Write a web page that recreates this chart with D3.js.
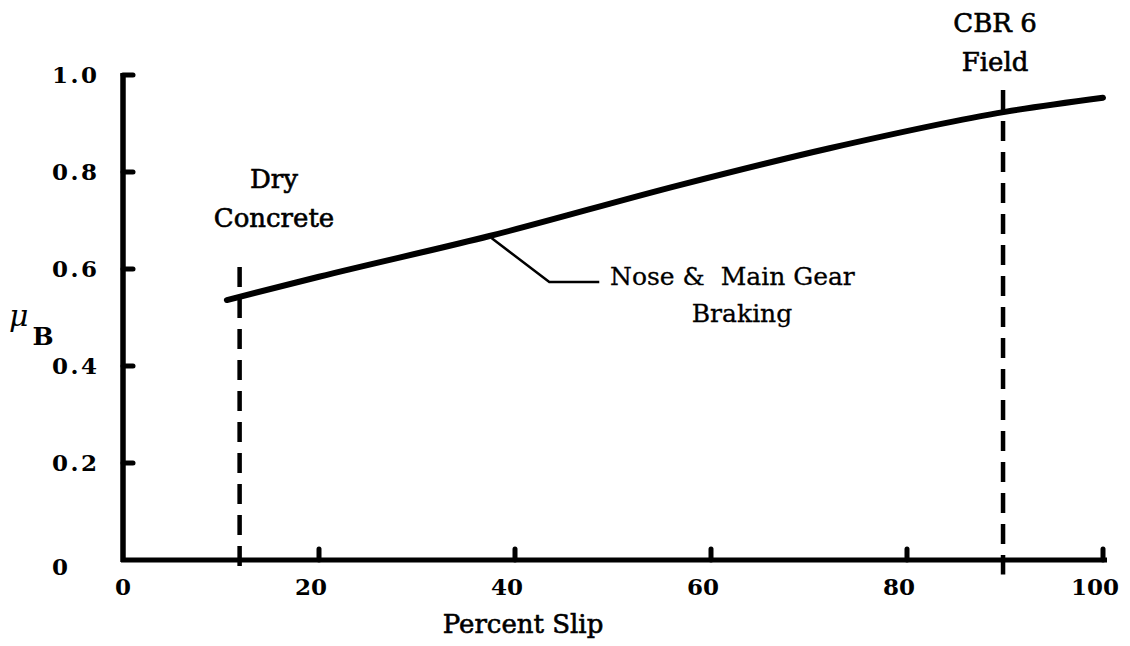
<!DOCTYPE html>
<html>
<head>
<meta charset="utf-8">
<script src="https://cdn.jsdelivr.net/npm/d3@7"></script>
<style>
  html, body { margin: 0; padding: 0; background: #fff; }
  svg { display: block; }
  text { font-family: "DejaVu Serif", serif; fill: #000; }
</style>
</head>
<body>
<svg id="chart" width="1130" height="646"></svg>
<script>
// ---- data ----
const slip = [10.6, 20, 37.4, 56.8, 72.1, 90, 100];
const muB  = [0.536, 0.584, 0.668, 0.773, 0.849, 0.924, 0.953];

const xTicks = [0, 20, 40, 60, 80, 100];
const yTicks = [0, 0.2, 0.4, 0.6, 0.8, 1.0];
const yTickLabels = ["0", "0.2", "0.4", "0.6", "0.8", "1.0"];

const surfaceSlip = [11.9, 89.8];
const surfaceTop  = [0.604, 0.969];
const surfaceBottom = [-0.016, -0.03];
const surfaceLabels = [["Dry", "Concrete"], ["CBR 6", "Field"]];

const leaderSlip = [37.6, 43.5, 48.6];
const leaderMu   = [0.664, 0.573, 0.573];
const curveLabel = ["Nose & \u00A0Main Gear", "Braking"];

const xTitle = "Percent Slip";

// ---- scales ----
const svg = d3.select("#chart");
const x = d3.scaleLinear().domain([0, 100]).range([123, 1103]);
const y = d3.scaleLinear().domain([0, 1]).range([560, 75]);

const semi = sel => sel.attr("stroke", "#000").attr("stroke-width", 0.6);

// ---- axes ----
svg.append("line")
  .attr("x1", x(0)).attr("x2", x(0))
  .attr("y1", y(1) - 2).attr("y2", y(0) + 2)
  .attr("stroke", "#000").attr("stroke-width", 5.5);
svg.append("line")
  .attr("x1", x(0) - 2).attr("x2", x(100) + 4)
  .attr("y1", y(0)).attr("y2", y(0))
  .attr("stroke", "#000").attr("stroke-width", 5);

// y ticks (pointing right)
svg.selectAll(".ytick").data(yTicks.filter(d => d > 0)).enter().append("line")
  .attr("x1", x(0)).attr("x2", x(0) + 10)
  .attr("y1", d => y(d)).attr("y2", d => y(d))
  .attr("stroke", "#000").attr("stroke-width", 5).attr("stroke-linecap", "round");

// x ticks (pointing up)
svg.selectAll(".xtick").data(xTicks.filter(d => d > 0)).enter().append("line")
  .attr("x1", d => x(d)).attr("x2", d => x(d))
  .attr("y1", y(0)).attr("y2", y(0) - 11)
  .attr("stroke", "#000").attr("stroke-width", 5).attr("stroke-linecap", "round");

// y tick labels
svg.selectAll(".ylab").data(yTicks).enter().append("text")
  .attr("x", 52)
  .attr("y", d => d === 0 ? y(d) + 7 : y(d))
  .attr("dy", "0.36em")
  .attr("font-size", 23).attr("font-weight", "bold")
  .attr("letter-spacing", 2.5)
  .text((d, i) => yTickLabels[i]);

// x tick labels
svg.selectAll(".xlab").data(xTicks).enter().append("text")
  .attr("x", d => d === 0 ? x(d) : x(d) - 8)
  .attr("y", y(0) + 27)
  .attr("dy", "0.36em")
  .attr("text-anchor", "middle")
  .attr("font-size", 23).attr("font-weight", "bold")
  .text(d => d);

// axis titles
svg.append("text")
  .attr("x", 523).attr("y", 633)
  .attr("text-anchor", "middle")
  .attr("font-size", 26)
  .call(semi)
  .text(xTitle);

const mu = svg.append("text").attr("x", 9).attr("y", 326).attr("font-size", 30).attr("font-style", "italic");
mu.append("tspan").text("\u03BC");
mu.append("tspan").attr("dx", 4).attr("dy", 19).attr("font-size", 25).attr("font-style", "normal")
  .attr("font-weight", "bold").text("B");

// ---- surface dashed lines ----
svg.selectAll(".surf").data(surfaceSlip).enter().append("line")
  .attr("x1", d => x(d)).attr("x2", d => x(d))
  .attr("y1", (d, i) => y(surfaceTop[i])).attr("y2", (d, i) => y(surfaceBottom[i]))
  .attr("stroke", "#000").attr("stroke-width", 4.5)
  .attr("stroke-dasharray", "20,11");

// surface labels
const labelPos = [[274, 188], [995, 32]];
surfaceLabels.forEach((lines, i) => {
  const t = svg.append("text")
    .attr("x", labelPos[i][0]).attr("y", labelPos[i][1])
    .attr("text-anchor", "middle").attr("font-size", 26)
    .call(semi);
  lines.forEach((s, j) => {
    t.append("tspan").attr("x", labelPos[i][0]).attr("dy", j === 0 ? 0 : 39).text(s);
  });
});

// ---- curve ----
const pts = slip.map((s, i) => [s, muB[i]]);
svg.append("path")
  .datum(pts)
  .attr("fill", "none").attr("stroke", "#000").attr("stroke-width", 6)
  .attr("stroke-linecap", "round")
  .attr("d", d3.line().x(d => x(d[0])).y(d => y(d[1])).curve(d3.curveMonotoneX));

// leader
svg.append("path")
  .datum(leaderSlip.map((s, i) => [s, leaderMu[i]]))
  .attr("fill", "none").attr("stroke", "#000").attr("stroke-width", 2.5)
  .attr("d", d3.line().x(d => x(d[0])).y(d => y(d[1])));

const cl = svg.append("text").attr("x", 610).attr("y", 285).attr("font-size", 25)
  .attr("stroke", "#000").attr("stroke-width", 0.3);
cl.append("tspan").attr("x", 610).text(curveLabel[0]);
cl.append("tspan").attr("x", 742).attr("dy", 37).attr("text-anchor", "middle").text(curveLabel[1]);
</script>
</body>
</html>
